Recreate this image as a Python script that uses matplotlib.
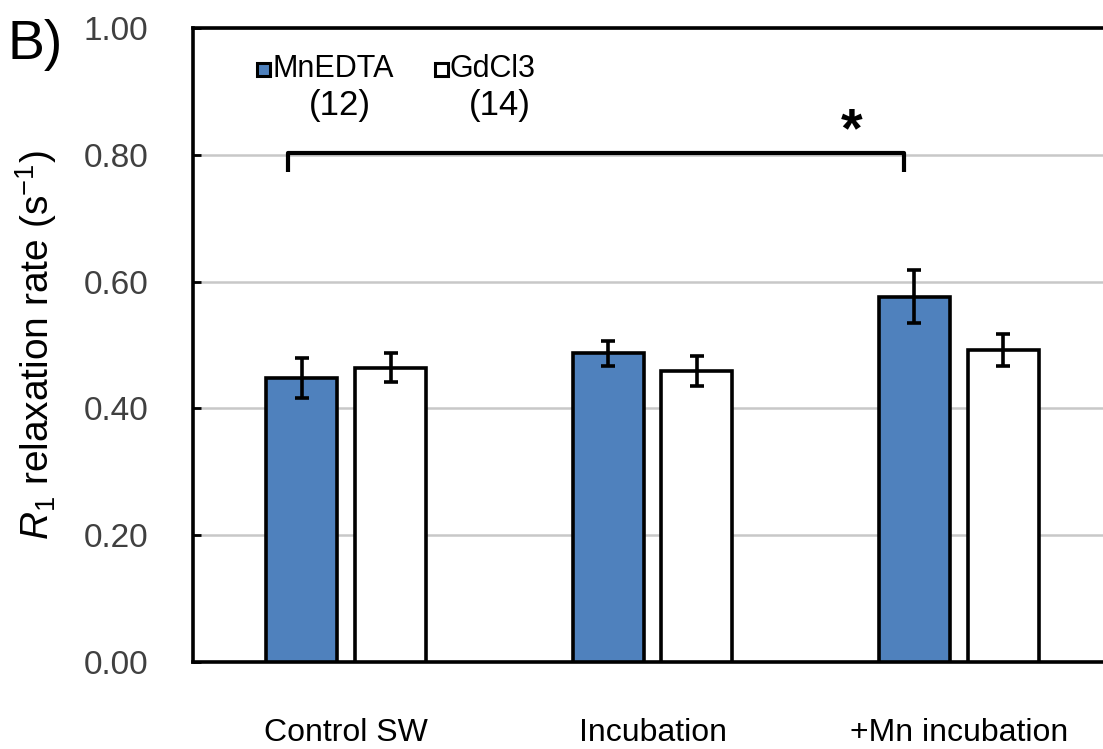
import matplotlib.pyplot as plt
from matplotlib.patches import Rectangle
import numpy as np

# R1 relaxation rate per condition
conditions = ["Control SW", "Incubation", "+Mn incubation"]
mnedta = [0.448, 0.487, 0.576]
mnedta_err = [0.032, 0.020, 0.042]
gdcl3 = [0.464, 0.459, 0.492]
gdcl3_err = [0.023, 0.024, 0.025]
yticks = [0.0, 0.2, 0.4, 0.6, 0.8, 1.0]

blue = "#4F81BD"
txt = "#404040"

plt.rcParams["font.family"] = ["Liberation Sans", "DejaVu Sans"]
plt.rcParams["mathtext.fontset"] = "custom"
plt.rcParams["mathtext.rm"] = "Liberation Sans"
plt.rcParams["mathtext.it"] = "Liberation Sans:italic"

fig = plt.figure(figsize=(11.03, 7.49), dpi=100)
ax = fig.add_axes([193/1103, 1 - 662/749, (1112 - 193)/1103, (662 - 28)/749])

x = np.arange(len(conditions))
w = 0.232
off = 0.145
ax.bar(x - off, mnedta, w, color=blue, edgecolor="black", linewidth=2.6, zorder=3)
ax.bar(x + off, gdcl3, w, color="white", edgecolor="black", linewidth=2.6, zorder=3)
ax.errorbar(x - off, mnedta, yerr=mnedta_err, fmt="none", ecolor="black",
            elinewidth=2.6, capsize=5, capthick=2.6, zorder=4)
ax.errorbar(x + off, gdcl3, yerr=gdcl3_err, fmt="none", ecolor="black",
            elinewidth=2.6, capsize=5, capthick=2.6, zorder=4)

ax.set_xlim(-0.5, 2.5)
ax.set_ylim(0, 1.0)
ax.set_yticks(yticks)
ax.set_yticklabels([f"{v:.2f}" for v in yticks])
ax.yaxis.grid(True, color="#c8c8c8", linewidth=1.8, zorder=0)
ax.set_axisbelow(True)
ax.set_xticks(x)
ax.set_xticklabels(conditions)
ax.tick_params(axis="x", length=0, pad=40, labelsize=23, labelcolor="black")
ax.tick_params(axis="y", direction="in", length=6, width=2, pad=32,
               labelsize=24, labelcolor=txt)
for s in ax.spines.values():
    s.set_linewidth(2.6)
    s.set_color("black")

ax.set_ylabel(r"$R_1$ relaxation rate (s$^{\mathrm{-1}}$)", fontsize=28, color="black")
ax.yaxis.set_label_coords(-0.146, 0.5)

# significance bracket
y0, y1 = 0.803, 0.773
ax.plot([-0.19, -0.19, 1.82, 1.82], [y1, y0, y0, y1], color="black",
        linewidth=3, solid_capstyle="butt", zorder=5, clip_on=False)
ax.text(1.65, 0.795, "*", fontsize=40, ha="center", va="bottom", fontweight="bold")

# legend-like annotations
sq_w, sq_h = 0.043, 0.021
for cx, col in [(-0.27, blue), (0.31, "white")]:
    ax.add_patch(Rectangle((cx - sq_w/2, 0.935 - sq_h/2), sq_w, sq_h,
                           facecolor=col, edgecolor="black", linewidth=2.2, zorder=5))
ax.text(-0.242, 0.935, "MnEDTA", fontsize=22, ha="left", va="center", color="black")
ax.text(0.338, 0.935, "GdCl3", fontsize=22, ha="left", va="center", color="black")
ax.text(-0.02, 0.877, "(12)", fontsize=25, ha="center", va="center")
ax.text(0.50, 0.877, "(14)", fontsize=25, ha="center", va="center")

fig.text(8/1103, 1 - 45/749, "B)", fontsize=40, ha="left", va="center")

fig.savefig("out.png", dpi=100)
